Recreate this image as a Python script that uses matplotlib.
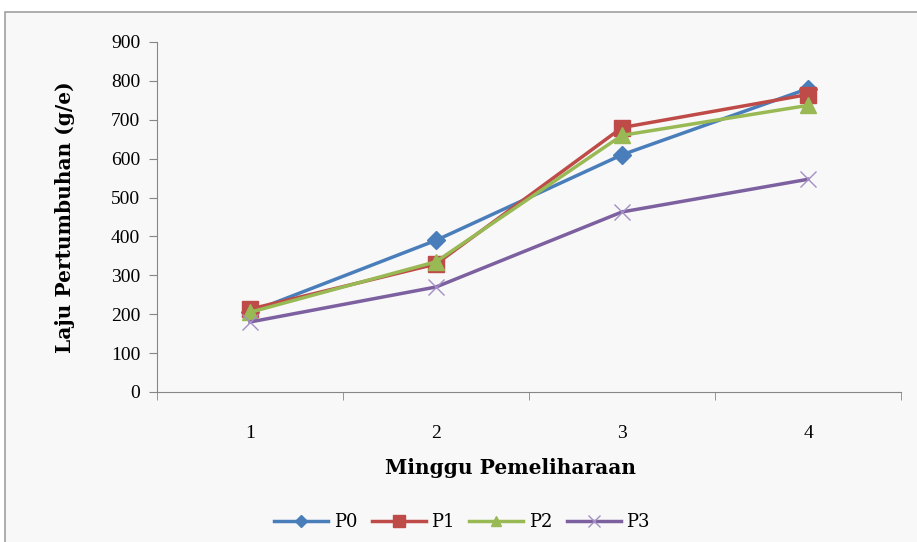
import matplotlib.pyplot as plt
from matplotlib.patches import Rectangle
import numpy as np

weeks = ["1", "2", "3", "4"]
p0 = [205, 390, 610, 780]
p1 = [213, 329, 680, 765]
p2 = [205, 335, 660, 737]
p3 = [180, 270, 463, 547]

series = [
    ("P0", p0, "#4a7ebb", "D", 9),
    ("P1", p1, "#be4b48", "s", 12),
    ("P2", p2, "#98b954", "^", 11),
    ("P3", p3, "#7d60a0", "x", 12),
]

plt.rcParams['font.family'] = ['Liberation Serif', 'DejaVu Serif']

fig = plt.figure(figsize=(9.17, 5.42), dpi=100)
fig.patch.set_facecolor("white")
# grey chart area with a thin border, cut off at right and bottom
fig.patches.append(Rectangle((5 / 917, -0.1), 1.2, 1 - 12 / 542 + 0.1,
                             transform=fig.transFigure, facecolor="#f8f8f8",
                             edgecolor="#a0a0a0", linewidth=1.2, zorder=-1))

ax = fig.add_axes([157 / 917, 1 - 392 / 542, 744 / 917, 350 / 542])
ax.set_facecolor("none")

x = np.arange(len(weeks))
for name, vals, col, mk, ms in series:
    if mk == "x":
        ax.plot(x, vals, color=col, linewidth=2.5, marker=mk, markersize=ms,
                markeredgewidth=1.0, markeredgecolor="#a48fc4", label=name,
                clip_on=False)
    else:
        ax.plot(x, vals, color=col, linewidth=2.5, marker=mk, markersize=ms,
                markeredgecolor=col, label=name, clip_on=False)

ax.set_xlim(-0.5, 3.5)
ax.set_ylim(0, 900)
ax.set_yticks(np.arange(0, 901, 100))
ax.set_xticks(x)
ax.set_xticklabels(weeks)
ax.set_xticks(np.arange(-0.5, 3.6, 1), minor=True)
ax.tick_params(axis="x", which="major", length=0, pad=24, labelsize=14)
ax.tick_params(axis="x", which="minor", length=6, color="#868686", direction="out")
ax.tick_params(axis="y", length=6, color="#868686", labelsize=14, pad=6)

for s in ["top", "right"]:
    ax.spines[s].set_visible(False)
ax.spines["left"].set_color("#868686")
ax.spines["bottom"].set_color("#868686")

ax.set_xlabel("Minggu Pemeliharaan", fontsize=14.5, fontweight="bold",
              family="DejaVu Serif")
ax.set_ylabel("Laju Pertumbuhan (g/e)", fontsize=14.5, fontweight="bold",
              family="DejaVu Serif")
ax.xaxis.label.set_va("center")
ax.yaxis.label.set_va("center")
ax.xaxis.set_label_coords(0.4745, -0.217)
ax.yaxis.set_label_coords(-0.124, 0.5)

ax.legend(loc="center", bbox_to_anchor=(0.41, -0.371), ncol=4, frameon=False,
          prop={"family": "DejaVu Serif", "size": 13}, handlelength=3.0,
          columnspacing=0.8, handletextpad=0.3, markerscale=0.7)

fig.savefig("out.png", dpi=100)
